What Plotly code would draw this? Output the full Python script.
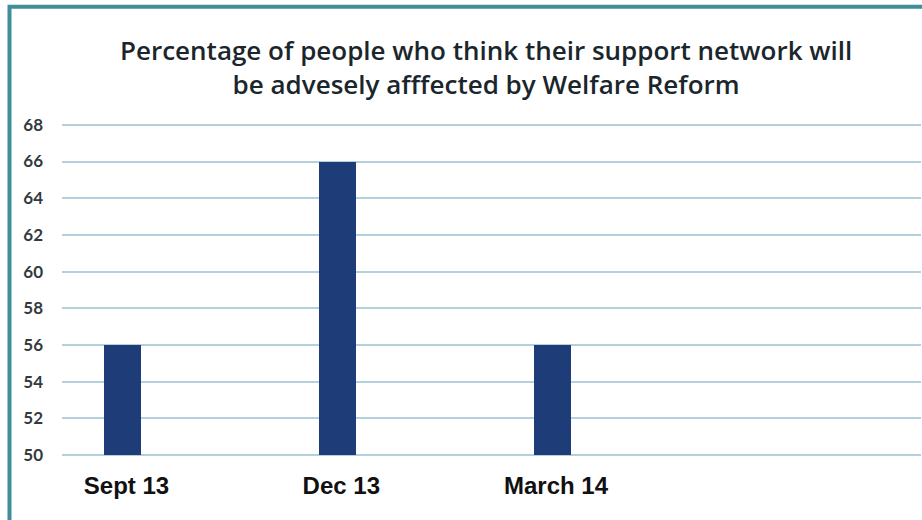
import plotly.graph_objects as go

# Survey waves and the share of respondents (%) at each
periods = ["Sept 13", "Dec 13", "March 14"]
percent_affected = [56, 66, 56]
axis_floor = 50

y_ticks = list(range(50, 70, 2))

title_text = ("Percentage of people who think their support network will<br>"
              "be advesely afffected by Welfare Reform")

# y-range padded a touch so the 50 and 68 gridlines are drawn
y_lo, y_hi = 49.9, 68.1
px_per_unit = 330 / 18.0
top_px = 125 - (y_hi - 68) * px_per_unit
bot_px = 455 + (50 - y_lo) * px_per_unit
plot_h = bot_px - top_px

fig = go.Figure()
fig.add_trace(go.Bar(
    x=periods,
    y=[v - axis_floor for v in percent_affected],
    base=axis_floor,
    width=0.172,
    marker=dict(color="#1e3c78", line=dict(width=0)),
    showlegend=False,
    customdata=percent_affected,
    hovertemplate="%{x}: %{customdata}%<extra></extra>",
))

fig.update_layout(
    width=922,
    height=520,
    margin=dict(l=62, r=1, t=top_px, b=520 - bot_px),
    paper_bgcolor="white",
    plot_bgcolor="white",
    bargap=0,
    annotations=[dict(
        text=title_text,
        xref="paper", yref="paper",
        x=0.4936, y=(bot_px - 67) / plot_h,
        xanchor="center", yanchor="middle",
        showarrow=False,
        align="center",
        font=dict(family="Open Sans", size=26, color="#1b262c", weight=600),
    )],
    shapes=[dict(
        type="rect",
        xref="paper", yref="paper",
        x0=(9.5 - 62) / 859.0, x1=(940 - 62) / 859.0,
        y0=(bot_px - 540) / plot_h, y1=(bot_px - 7) / plot_h,
        line=dict(color="#3f8e98", width=4),
        fillcolor="rgba(0,0,0,0)",
        layer="below",
    )],
)

fig.update_xaxes(
    type="category",
    range=[-0.2817, 3.718],
    showgrid=False,
    showline=False,
    zeroline=False,
    ticks="",
    ticklabelstandoff=12,
    ticklabelshift=4,
    tickfont=dict(family="Liberation Sans", size=24, color="#111111", weight="bold"),
)

fig.update_yaxes(
    range=[y_lo, y_hi],
    tickvals=y_ticks,
    ticktext=[str(v) for v in y_ticks],
    showgrid=True,
    gridcolor="#b3d0dd",
    gridwidth=2,
    zeroline=False,
    showline=False,
    ticks="",
    ticklabelstandoff=18,
    tickfont=dict(family="Lato", size=17, color="#333a3e", weight="bold"),
)

fig.write_html("out.html")
